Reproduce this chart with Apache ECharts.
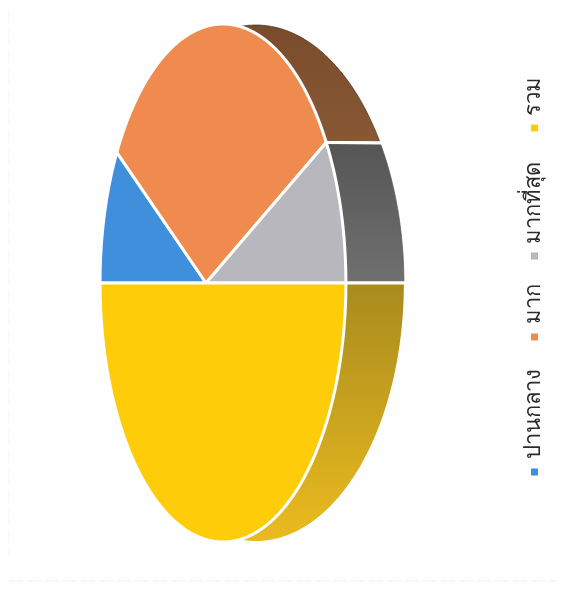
<!DOCTYPE html>
<html><head><meta charset="utf-8">
<style>html,body{margin:0;padding:0;background:#fefefe}#c{width:567px;height:593px}</style>
<script src="https://cdn.jsdelivr.net/npm/echarts@6/dist/echarts.min.js"></script>
</head><body><div id="c"></div>
<script>
const categories = ['ปานกลาง', 'มาก', 'มากที่สุด', 'รวม'];
const values = [9.6, 32.4, 8, 50];
const faceColors = ['#3F8FDD', '#F08B50', '#B8B7BE', '#FFCC0A'];
const sideTop = ['#2a5f93', '#7a4b2b', '#555555', '#A88B1E'];
const sideBottom = ['#2a5f93', '#8A5A36', '#707070', '#EBBB1F'];
const sideEdge = [null, '#3f2a1a', '#555555', null];

const L = {x0:206, y0:283, A:120.6, B:256.5, k:-0.138, cx:223, rx:123, ry:259, qx:256, qrx:148, qry:258, step:0.01};
const legendMarkerY = [472, 337, 256, 128];
const legendTextY = [459, 324, 244, 116];
const total = values.reduce((a, b) => a + b, 0);
function P(t){const u=-Math.cos(t),v=-Math.sin(t),d=1+L.k*u;return [L.x0+u*L.A/d,L.y0+v*L.B/d];}
function Q(t){const p=P(t);return [L.qx+L.qrx*(p[0]-L.cx)/L.rx,L.y0+L.qry*(p[1]-L.y0)/L.ry];}
function range(i){let s=0;for(let j=0;j<i;j++)s+=values[j];return [s/total*2*Math.PI,(s+values[i])/total*2*Math.PI];}
function arc(f,a,b){const n=Math.max(2,Math.ceil((b-a)/L.step)),o=[];for(let i=0;i<=n;i++)o.push(f(a+(b-a)*i/n));return o;}
const white = {stroke:'#fff',lineWidth:3};

const chart = echarts.init(document.getElementById('c'), null, {renderer:'canvas'});
chart.setOption({
  animation:false,
  backgroundColor:'#fefefe',
  graphic:[
    {type:'line',silent:true,shape:{x1:9,y1:581,x2:557,y2:581},style:{stroke:'#f2f2f2',lineWidth:1,lineDash:[14,4]}},
    {type:'line',silent:true,shape:{x1:9,y1:10,x2:9,y2:555},style:{stroke:'#f5f5f5',lineWidth:1,lineDash:[14,6]}}
  ],
  series:[
    {type:'custom',coordinateSystem:'none',silent:true,z:1,data:values,
     renderItem(p){const i=p.dataIndex,[a,b]=range(i);
       const kids=[{type:'polygon',shape:{points:arc(P,a,b).concat(arc(Q,a,b).reverse())},
         style:{fill:new echarts.graphic.LinearGradient(0,0,0,1,[{offset:0,color:sideTop[i]},{offset:1,color:sideBottom[i]}])}}];
       if(sideEdge[i]) kids.push({type:'polyline',shape:{points:arc(Q,a,b)},style:{fill:'none',stroke:sideEdge[i],lineWidth:1,opacity:0.7}});
       kids.push({type:'line',shape:{x1:P(a)[0],y1:P(a)[1],x2:Q(a)[0]+2,y2:Q(a)[1]},style:white});
       kids.push({type:'line',shape:{x1:P(b)[0],y1:P(b)[1],x2:Q(b)[0]+2,y2:Q(b)[1]},style:white});
       return {type:'group',children:kids};}},
    {type:'custom',coordinateSystem:'none',silent:true,z:2,data:values,
     renderItem(p){const i=p.dataIndex,[a,b]=range(i);
       return {type:'polygon',shape:{points:[[L.x0,L.y0]].concat(arc(P,a,b))},
         style:{fill:faceColors[i],stroke:'#fff',lineWidth:3,lineJoin:'round'}};}},
    {type:'custom',coordinateSystem:'none',silent:true,z:3,data:categories,
     renderItem(p){const i=p.dataIndex;
       return {type:'group',children:[
         {type:'rect',shape:{x:531,y:legendMarkerY[i]-3.5,width:7,height:7},style:{fill:faceColors[i]}},
         {type:'text',x:534,y:legendTextY[i],rotation:Math.PI/2,
          style:{text:categories[i],fill:'#2b2b2b',font:'22px "Noto Sans", "DejaVu Sans", sans-serif',align:'left',verticalAlign:'middle'}}
       ]};}}
  ]
});
</script></body></html>
